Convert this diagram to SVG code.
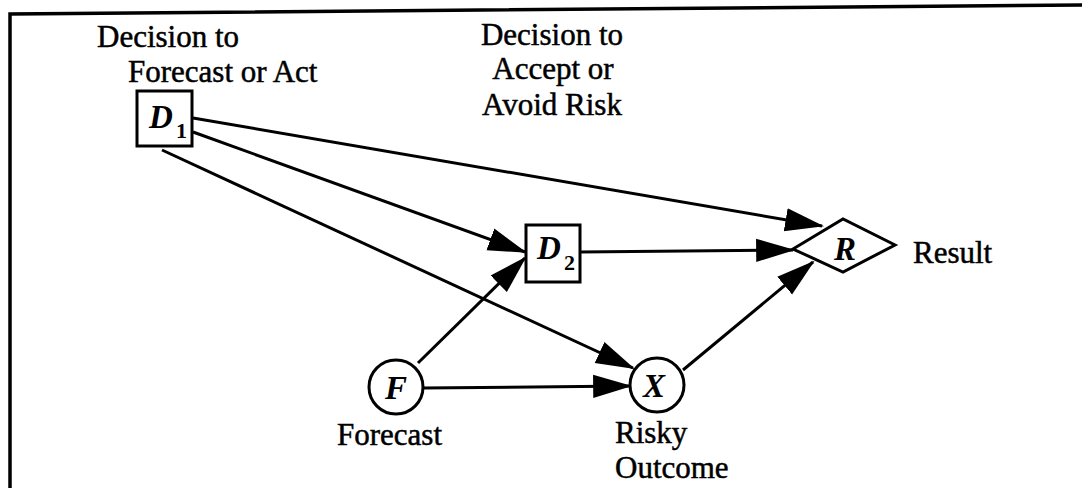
<svg xmlns="http://www.w3.org/2000/svg" width="1082" height="488" viewBox="0 0 1082 488">
<style>
text{font-family:'Liberation Serif','DejaVu Serif','Times New Roman',serif;fill:#000}
.lbl{font-size:31px;stroke:#000;stroke-width:0.5}
.sym{font-size:33px;font-style:italic;font-weight:bold}
.sub{font-size:22px;font-weight:bold}
.shape{fill:#fff;stroke:#000;stroke-width:3}
.edge{stroke:#000;stroke-width:3;fill:none;marker-end:url(#ah)}
.frame{stroke:#000;stroke-width:3.5;fill:none}
</style>
<defs>
<marker id="ah" markerUnits="userSpaceOnUse" markerWidth="40" markerHeight="26" viewBox="0 0 38 24" refX="35" refY="12" orient="auto">
<path d="M0,1 L37,12 L0,23 z" fill="#000"/>
</marker>
</defs>
<rect width="1082" height="488" fill="#fff"/>
<polyline class="frame" points="10,488 10,14 1082,5"/>
<g id="connectors">
<line class="edge" x1="193" y1="118" x2="822" y2="226"/>
<line class="edge" x1="193" y1="132" x2="525" y2="252"/>
<line class="edge" x1="162" y1="150" x2="633" y2="368"/>
<line class="edge" x1="418" y1="363" x2="525" y2="258"/>
<line class="edge" x1="423" y1="388" x2="630" y2="386"/>
<line class="edge" x1="580" y1="252" x2="793" y2="250"/>
<line class="edge" x1="683" y1="370" x2="813" y2="262"/>
</g>
<g id="D1">
<rect class="shape" x="137" y="91" width="55" height="55"/>
<text class="sym" x="149" y="128">D</text>
<text class="sub" x="176" y="138">1</text>
<text class="lbl" x="97" y="47">Decision to</text>
<text class="lbl" x="128" y="82">Forecast or Act</text>
</g>
<g id="D2">
<rect class="shape" x="526" y="225" width="54" height="57"/>
<text class="sym" x="537" y="259">D</text>
<text class="sub" x="564" y="270">2</text>
<text class="lbl" x="552" y="45" text-anchor="middle">Decision to</text>
<text class="lbl" x="553" y="79" text-anchor="middle">Accept or</text>
<text class="lbl" x="552" y="115" text-anchor="middle">Avoid Risk</text>
</g>
<g id="R">
<polygon class="shape" points="793,249 843,219 895,245 843,272"/>
<text class="sym" x="834" y="260">R</text>
<text class="lbl" x="913" y="263">Result</text>
</g>
<g id="F">
<circle class="shape" cx="396" cy="387" r="27"/>
<text class="sym" x="385" y="399">F</text>
<text class="lbl" x="337" y="445">Forecast</text>
</g>
<g id="X">
<circle class="shape" cx="657" cy="385" r="27"/>
<text class="sym" x="643" y="397">X</text>
<text class="lbl" x="615" y="443">Risky</text>
<text class="lbl" x="615" y="478">Outcome</text>
</g>
</svg>
